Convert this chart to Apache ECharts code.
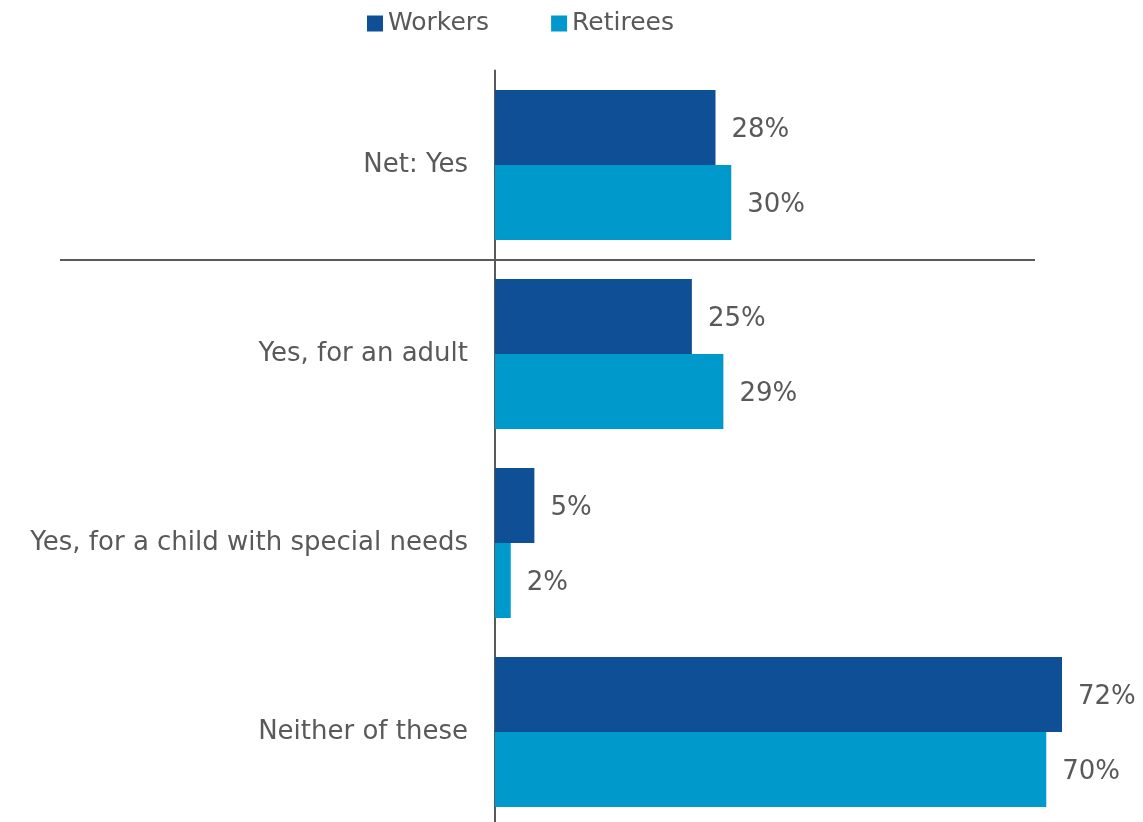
<!DOCTYPE html>
<html>
<head>
<meta charset="utf-8">
<script src="https://cdn.jsdelivr.net/npm/echarts@6/dist/echarts.min.js"></script>
<style>
  html, body { margin: 0; padding: 0; background: #fff; overflow: hidden; }
  #chart { width: 1143px; height: 830px; }
</style>
</head>
<body>
<div id="chart"></div>
<script>
var categories = ['Net: Yes', 'Yes, for an adult', 'Yes, for a child with special needs', 'Neither of these'];
var workers = [28, 25, 5, 72];
var retirees = [30, 29, 2, 70];
var seriesNames = ['Workers', 'Retirees'];

var FONT = 'DejaVu Sans';
var TXT = '#595959';

var myChart = echarts.init(document.getElementById('chart'));

var labelStyle = {
  show: true,
  position: 'right',
  distance: 16,
  offset: [0, 3],
  formatter: '{c}%',
  color: TXT,
  fontFamily: FONT,
  fontSize: 26
};

var option = {
  animation: false,
  textStyle: { fontFamily: FONT },
  legend: {
    data: seriesNames,
    top: 6,
    left: 362,
    itemWidth: 16,
    itemHeight: 16,
    itemGap: 62,
    icon: 'rect',
    textStyle: { color: TXT, fontSize: 25, fontFamily: FONT }
  },
  // plot runs a little past the bottom edge of the page, as in the original
  grid: {
    left: 495,
    top: 70.5,
    right: 18,
    bottom: 3.5,
    containLabel: false
  },
  xAxis: {
    type: 'value',
    min: 0,
    max: 80,
    show: false
  },
  yAxis: {
    type: 'category',
    data: categories,
    inverse: true,
    axisLine: { show: true, lineStyle: { color: TXT, width: 2 } },
    axisTick: { show: false },
    axisLabel: { color: TXT, fontSize: 26, fontFamily: FONT, margin: 27 }
  },
  series: [
    {
      name: seriesNames[0],
      type: 'bar',
      data: workers,
      barGap: '0%',
      barCategoryGap: '20.6%',
      itemStyle: { color: '#0F4F96' },
      label: labelStyle
    },
    {
      name: seriesNames[1],
      type: 'bar',
      data: retirees,
      barGap: '0%',
      barCategoryGap: '20.6%',
      itemStyle: { color: '#0099CC' },
      label: labelStyle
    }
  ]
};

myChart.setOption(option);

// separator line between the "Net" group and the breakdown
var y0 = myChart.convertToPixel({ yAxisIndex: 0 }, categories[0]);
var y1 = myChart.convertToPixel({ yAxisIndex: 0 }, categories[1]);
var sepY = Math.round((y0 + y1) / 2);
myChart.setOption({
  graphic: [{
    type: 'line',
    shape: { x1: 60, y1: sepY, x2: 1035, y2: sepY },
    style: { stroke: TXT, lineWidth: 2 },
    z: 10
  }]
});
</script>
</body>
</html>
